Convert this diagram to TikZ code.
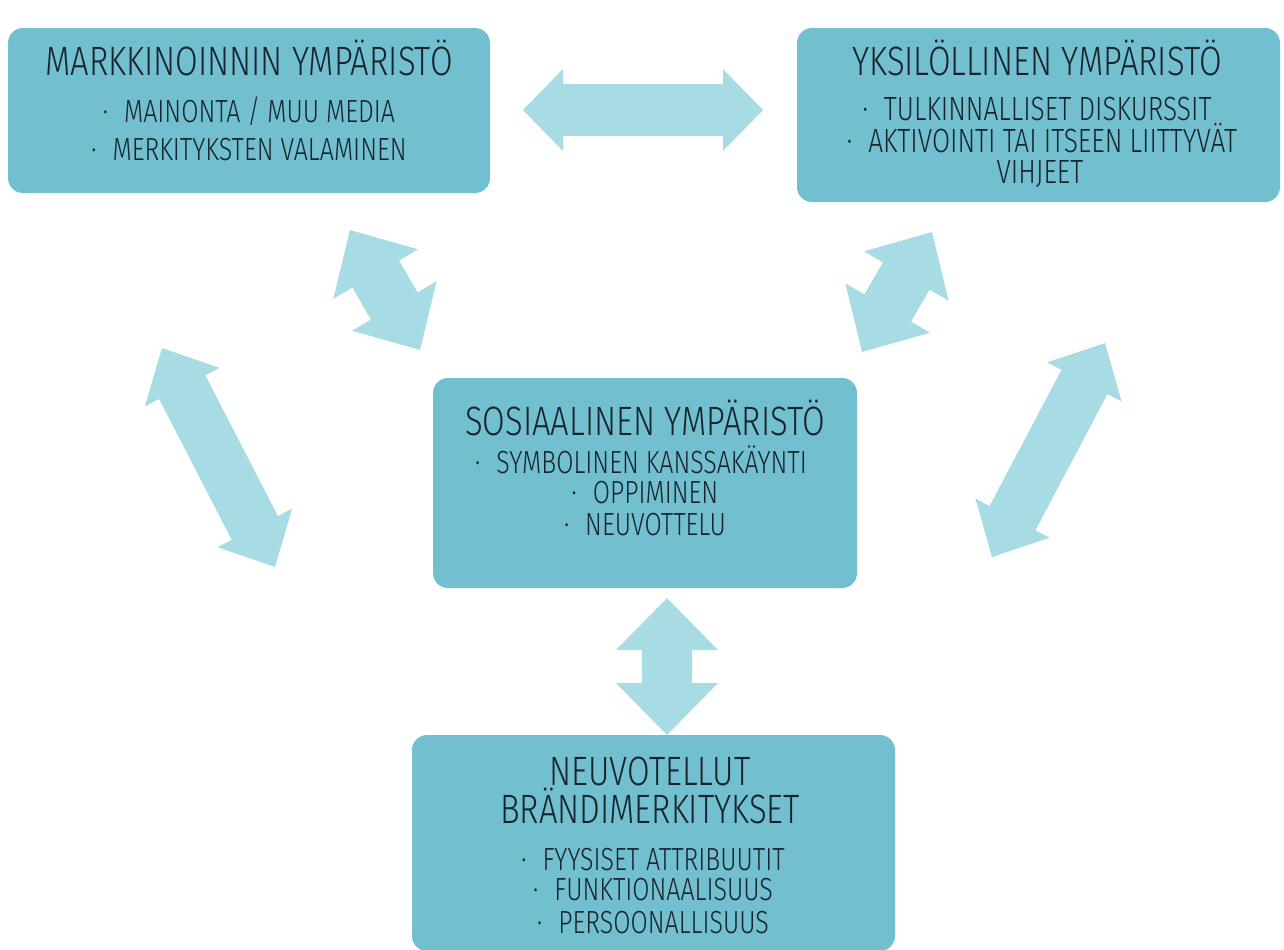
\documentclass[tikz,border=0pt]{standalone}
\usepackage{fontspec}
\setmainfont{Fira Sans Light}[FakeStretch=0.78]
\newfontfamily\headfont{Fira Sans Light}[FakeStretch=0.8]
\newfontfamily\itemfont{Fira Sans Light}[FakeStretch=0.78]
\newfontfamily\itemwidefont{Fira Sans Light}[FakeStretch=0.78]
\usetikzlibrary{calc}

\definecolor{boxfill}{HTML}{72BFCF}
\definecolor{arrowfill}{HTML}{A8DCE5}
\definecolor{ink}{HTML}{17232B}

% double-headed block arrow: start, end, head length, head half-width, shaft half-width
\newcommand{\dblblockarrow}[5]{%
  \coordinate (hb1) at ($(#1)!#3!(#2)$);
  \coordinate (hb2) at ($(#2)!#3!(#1)$);
  \fill[arrowfill]
    (#1) -- ($(hb1)!#4!90:(#2)$) -- ($(hb1)!#5!90:(#2)$)
    -- ($(hb2)!#5!-90:(#1)$) -- ($(hb2)!#4!-90:(#1)$)
    -- (#2) -- ($(hb2)!#4!90:(#1)$) -- ($(hb2)!#5!90:(#1)$)
    -- ($(hb1)!#5!-90:(#2)$) -- ($(hb1)!#4!-90:(#2)$) -- cycle;
}

\tikzset{
  panel/.style={fill=boxfill, draw=none, rounded corners=7.5pt, inner sep=0pt},
  headline/.style={text=ink, anchor=base, inner sep=0pt, font=\headfont\fontsize{20.5}{24}\selectfont},
  itemline/.style={text=ink, anchor=base, inner sep=0pt, font=\itemfont\fontsize{16}{19}\selectfont},
  itemwide/.style={text=ink, anchor=base, inner sep=0pt, font=\itemwidefont\fontsize{16.8}{20}\selectfont},
}

\begin{document}
\begin{tikzpicture}[x=0.5pt, y=-0.5pt]
\useasboundingbox (0,0) rectangle (1284,949);
\begin{scope}
\clip (0,0) rectangle (1284,949);

% panels
\node[panel, minimum width=241pt, minimum height=82.5pt] (market) at (249,110.5) {};
\node[panel, minimum width=241.5pt, minimum height=87pt] (indiv) at (1038.5,115) {};
\node[panel, minimum width=212pt, minimum height=105pt] (social) at (645,483) {};
\node[panel, minimum width=241.5pt, minimum height=108pt] (brand) at (653.5,843) {};

% arrow end points
\coordinate (hA) at (523,110);   \coordinate (hB) at (763,110);
\coordinate (vA) at (667,598);   \coordinate (vB) at (667,735);
\coordinate (lsA) at (350,230);  \coordinate (lsB) at (420,350);
\coordinate (rsA) at (932,232);  \coordinate (rsB) at (862,352);
\coordinate (llA) at (162,348);  \coordinate (llB) at (275,567);
\coordinate (rlA) at (1105,343); \coordinate (rlB) at (992,557);

\dblblockarrow{hA}{hB}{20pt}{20.5pt}{13pt}
\dblblockarrow{vA}{vB}{26pt}{25.5pt}{12.5pt}
\dblblockarrow{lsA}{lsB}{25.5pt}{24.5pt}{13.5pt}
\dblblockarrow{rsA}{rsB}{25.5pt}{24.5pt}{13.5pt}
\dblblockarrow{llA}{llB}{22pt}{21pt}{13pt}
\dblblockarrow{rlA}{rlB}{22pt}{21pt}{13pt}

% market environment
\node[headline] (marketT) at (249,75) {MARKKINOINNIN YMPÄRISTÖ};
\node[itemline] (market1) at (249,122) {·\hspace{8pt}MAINONTA / MUU MEDIA};
\node[itemline] (market2) at (249,160) {·\hspace{8pt}MERKITYKSTEN VALAMINEN};

% individual environment
\node[headline] (indivT) at (1037,75) {YKSILÖLLINEN YMPÄRISTÖ};
\node[itemwide] (indiv1) at (1037,120) {·\hspace{8pt}TULKINNALLISET DISKURSSIT};
\node[itemwide] (indiv2) at (1042,152) {·\hspace{8pt}AKTIVOINTI TAI ITSEEN LIITTYVÄT};
\node[itemwide] (indiv3) at (1040,183) {VIHJEET};

% social environment
\node[headline] (socialT) at (645,435) {SOSIAALINEN YMPÄRISTÖ};
\node[itemline] (social1) at (641,473) {·\hspace{8pt}SYMBOLINEN KANSSAKÄYNTI};
\node[itemline] (social2) at (645,503) {·\hspace{8pt}OPPIMINEN};
\node[itemline] (social3) at (645,535) {·\hspace{8pt}NEUVOTTELU};

% negotiated brand meanings
\node[headline] (brandT1) at (650,785) {NEUVOTELLUT};
\node[headline] (brandT2) at (650,823) {BRÄNDIMERKITYKSET};
\node[itemline] (brand1) at (653,870) {·\hspace{8pt}FYYSISET ATTRIBUUTIT};
\node[itemline] (brand2) at (653,900) {·\hspace{8pt}FUNKTIONAALISUUS};
\node[itemline] (brand3) at (653,933) {·\hspace{8pt}PERSOONALLISUUS};
\end{scope}
\end{tikzpicture}
\end{document}
